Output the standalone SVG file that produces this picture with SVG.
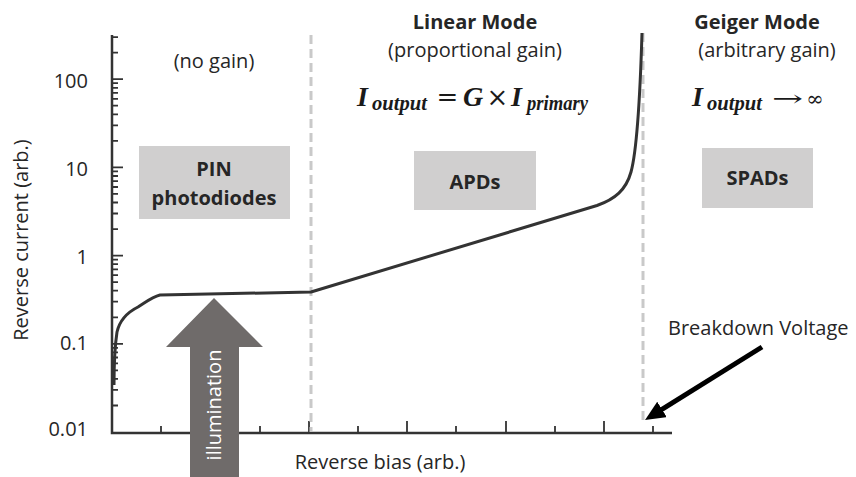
<svg xmlns="http://www.w3.org/2000/svg" width="856" height="477" viewBox="0 0 856 477">
<defs>
<style>
.t{font-family:"Open Sans","Noto Sans","DejaVu Sans",sans-serif;font-size:20px;fill:#262626}
.b{font-weight:bold}
.m{font-family:"Liberation Serif","Times New Roman",serif;font-weight:bold;font-style:italic;fill:#1a1a1a}
.s{font-family:"DejaVu Serif","Liberation Serif",serif;fill:#1a1a1a}
.box{fill:#d0cfcf}
.dash{stroke:#c9c9c9;stroke-width:3;stroke-dasharray:9 5;fill:none}
.ax{stroke:#333;fill:none}
</style>
<marker id="ah" viewBox="0 0 20 18" refX="10" refY="9" markerWidth="20" markerHeight="18" markerUnits="userSpaceOnUse" orient="auto">
<path d="M0,0 L20,9 L0,18 z" fill="#000"/>
</marker>
</defs>
<rect width="856" height="477" fill="#fff"/>

<g id="axes">
<path class="ax" stroke-width="2.5" d="M112 35 V433 H672"/>
<path class="ax" stroke-width="1.8" d="M112 79.2h11 M112 167.4h11 M112 255.6h11 M112 343.8h11
M112 405.5h6 M112 389.9h6 M112 378.9h6 M112 370.3h6 M112 363.4h6 M112 357.5h6 M112 352.4h6 M112 347.8h6
M112 317.3h6 M112 301.7h6 M112 290.7h6 M112 282.1h6 M112 275.2h6 M112 269.3h6 M112 264.2h6 M112 259.6h6
M112 229.1h6 M112 213.5h6 M112 202.5h6 M112 193.9h6 M112 187h6 M112 181.1h6 M112 176h6 M112 171.4h6
M112 140.9h6 M112 125.3h6 M112 114.3h6 M112 105.7h6 M112 98.8h6 M112 92.9h6 M112 87.8h6 M112 83.2h6
M112 52.7h6 M112 37.1h6
M161 432v-6 M210 432v-11 M260 432v-6 M309 432v-11 M358 432v-6 M407 432v-11 M456 432v-6 M506 432v-11 M555 432v-6 M604 432v-11 M653 432v-6"/>
<text class="t" x="88" y="88" text-anchor="end">100</text>
<text class="t" x="88" y="176" text-anchor="end">10</text>
<text class="t" x="88" y="264" text-anchor="end">1</text>
<text class="t" x="88" y="350" text-anchor="end">0.1</text>
<text class="t" x="88" y="436" text-anchor="end">0.01</text>
<text class="t" x="28" y="240" text-anchor="middle" transform="rotate(-90 28 240)">Reverse current (arb.)</text>
<text class="t" x="380" y="469" text-anchor="middle">Reverse bias (arb.)</text>
</g>

<g id="dividers">
<line class="dash" x1="311" y1="35" x2="311" y2="432"/>
<line class="dash" x1="643" y1="33" x2="643" y2="425"/>
</g>

<g id="curve">
<path d="M114 385 C114 362 115 345 117 332 C120 319 128 312 138 307 C146 302 152 297 160 295 L311 292 L597 205.5 C615 199 626 190 631 172 C637 150 640 100 642 33" fill="none" stroke="#333" stroke-width="3" stroke-linejoin="round"/>
</g>

<g id="region-pin">
<text class="t" x="214" y="68" text-anchor="middle" font-size="21">(no gain)</text>
<rect class="box" x="139" y="146" width="151" height="73"/>
<text class="t b" x="214" y="176" text-anchor="middle" font-size="19">PIN</text>
<text class="t b" x="214" y="205" text-anchor="middle" font-size="19">photodiodes</text>
</g>

<g id="region-linear">
<text class="t b" x="475" y="29" text-anchor="middle">Linear Mode</text>
<text class="t" x="475" y="57" text-anchor="middle" font-size="21">(proportional gain)</text>
<text class="m" x="357" y="106" font-size="28">I</text>
<text class="m" x="372" y="110" font-size="22" textLength="55" lengthAdjust="spacingAndGlyphs">output</text>
<text class="s" x="447.5" y="106" font-size="26" text-anchor="middle">=</text>
<text class="m" x="463" y="106" font-size="28">G</text>
<text class="s" x="497.5" y="106" font-size="26" text-anchor="middle">×</text>
<text class="m" x="511" y="106" font-size="28">I</text>
<text class="m" x="527" y="110" font-size="22" textLength="61" lengthAdjust="spacingAndGlyphs">primary</text>
<rect class="box" x="414" y="151" width="122" height="59"/>
<text class="t b" x="475" y="189" text-anchor="middle" font-size="19">APDs</text>
</g>

<g id="region-geiger">
<text class="t b" x="757" y="29" text-anchor="middle">Geiger Mode</text>
<text class="t" x="767" y="57" text-anchor="middle" font-size="21">(arbitrary gain)</text>
<text class="m" x="692" y="106" font-size="28">I</text>
<text class="m" x="707" y="110" font-size="22" textLength="55" lengthAdjust="spacingAndGlyphs">output</text>
<text class="s" x="772" y="106" font-size="22" textLength="31" lengthAdjust="spacingAndGlyphs">→</text>
<text class="s" x="815" y="106" font-size="21" text-anchor="middle">∞</text>
<rect class="box" x="702" y="148" width="111" height="60"/>
<text class="t b" x="757.5" y="185" text-anchor="middle" font-size="19">SPADs</text>
</g>

<g id="illumination">
<polygon points="214,298 263,347 239,347 239,477 190,477 190,347 166,347" fill="#6f6b6a"/>
<text class="t" x="221" y="405" text-anchor="middle" font-size="24" style="fill:#fff" transform="rotate(-90 221 405)">illumination</text>
</g>

<g id="breakdown">
<text class="t" x="668" y="335">Breakdown Voltage</text>
<line x1="762" y1="347" x2="653.5" y2="414.7" stroke="#000" stroke-width="5" marker-end="url(#ah)"/>
</g>
</svg>
